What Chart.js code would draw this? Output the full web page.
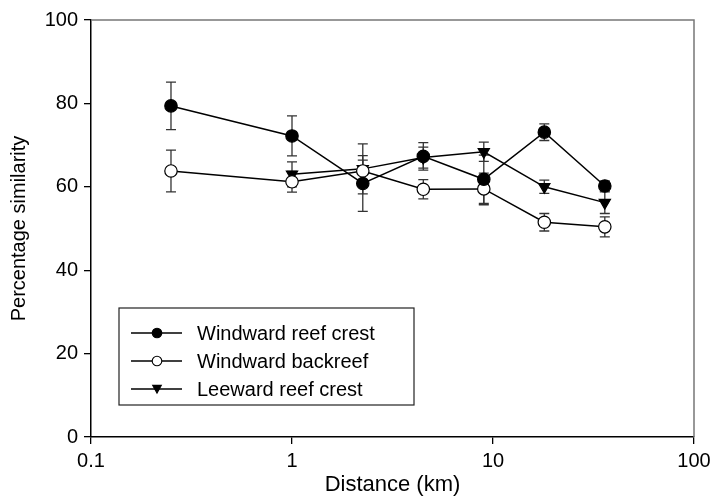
<!DOCTYPE html>
<html>
<head>
<meta charset="utf-8">
<script src="https://cdn.jsdelivr.net/npm/chart.js@4.4.1/dist/chart.umd.min.js"></script>
<style>
  html, body { margin: 0; padding: 0; background: #fff; }
  #wrap { width: 712px; height: 498px; }
</style>
</head>
<body>
<div id="wrap"><canvas id="chart" width="712" height="498"></canvas></div>
<script>
// distances (km) sampled, shared by all three series
const distances = [0.25, 1, 2.25, 4.5, 9, 18, 36];
const xTicks = [0.1, 1, 10, 100];
const yTicks = [0, 20, 40, 60, 80, 100];

const seriesNames = ["Windward reef crest", "Windward backreef", "Leeward reef crest"];

const crestMean = [79.4, 72.2, 60.8, 67.3, 61.8, 73.1, 60.2];
const crestErr  = [5.7, 4.8, 6.7, 3.3, 5.8, 2.0, 1.2];
const backMean  = [63.8, 61.2, 63.8, 59.4, 59.5, 51.5, 50.4];
const backErr   = [5.0, 2.5, 2.6, 2.3, 3.8, 2.1, 2.4];
const leeMean   = [null, 63.0, 64.3, 67.0, 68.4, 60.0, 56.2];
const leeErr    = [null, 3.0, 6.0, 2.5, 2.3, 1.6, 2.6];

const FONT = '"Liberation Sans", Arial, Helvetica, sans-serif';

function points(means, errs) {
  return distances
    .map((d, i) => ({ x: d, y: means[i], err: errs[i] }))
    .filter(p => p.y !== null);
}

// vertical error bars with caps, drawn under the markers
const errorBars = {
  id: "errorBars",
  beforeDatasetsDraw(chart) {
    const { ctx, scales: { x, y } } = chart;
    ctx.save();
    ctx.strokeStyle = "#333";
    ctx.lineWidth = 1.3;
    chart.data.datasets.forEach(ds => {
      ds.data.forEach(p => {
        const px = x.getPixelForValue(p.x);
        const top = y.getPixelForValue(p.y + p.err);
        const bot = y.getPixelForValue(p.y - p.err);
        ctx.beginPath();
        ctx.moveTo(px, top); ctx.lineTo(px, bot);
        ctx.moveTo(px - 5, top); ctx.lineTo(px + 5, top);
        ctx.moveTo(px - 5, bot); ctx.lineTo(px + 5, bot);
        ctx.stroke();
      });
    });
    ctx.restore();
  }
};

// grey top/right frame plus the boxed legend inside the plot
const frameAndLegend = {
  id: "frameAndLegend",
  afterDraw(chart) {
    const { ctx, chartArea: a } = chart;
    ctx.save();
    ctx.strokeStyle = "#777";
    ctx.lineWidth = 1.5;
    ctx.beginPath();
    ctx.moveTo(a.left, a.top); ctx.lineTo(a.right, a.top); ctx.lineTo(a.right, a.bottom);
    ctx.stroke();

    // legend box
    const bx = 119, by = 308, bw = 295, bh = 97;
    ctx.fillStyle = "#fff";
    ctx.fillRect(bx, by, bw, bh);
    ctx.strokeStyle = "#222";
    ctx.lineWidth = 1.2;
    ctx.strokeRect(bx, by, bw, bh);

    const rows = [333, 361, 389];
    chart.data.datasets.forEach((ds, i) => {
      const yy = rows[i];
      ctx.strokeStyle = "#000";
      ctx.lineWidth = 1.5;
      ctx.beginPath();
      ctx.moveTo(131, yy); ctx.lineTo(182, yy);
      ctx.stroke();
      const r = 4.8;
      ctx.fillStyle = ds.pointBackgroundColor;
      ctx.beginPath();
      if (ds.pointStyle === "triangle") {
        ctx.moveTo(157 - r * 0.9, yy - r * 0.75);
        ctx.lineTo(157 + r * 0.9, yy - r * 0.75);
        ctx.lineTo(157, yy + r * 0.85);
        ctx.closePath();
      } else {
        ctx.arc(157, yy, r, 0, Math.PI * 2);
      }
      ctx.fill();
      ctx.lineWidth = 1.1;
      ctx.stroke();

      ctx.fillStyle = "#000";
      ctx.font = "20px " + FONT;
      ctx.textBaseline = "middle";
      ctx.textAlign = "left";
      ctx.fillText(ds.label, 197, yy + 1);
    });
    ctx.restore();
  }
};

function lineSet(label, data, fill, style) {
  return {
    label: label,
    data: data,
    showLine: true,
    borderColor: "#000",
    borderWidth: 1.5,
    pointStyle: style,
    pointRotation: style === "triangle" ? 180 : 0,
    pointRadius: style === "triangle" ? 6.5 : 6.2,
    pointBorderWidth: 1.2,
    pointBorderColor: "#000",
    pointBackgroundColor: fill,
    backgroundColor: fill
  };
}

new Chart(document.getElementById("chart"), {
  type: "scatter",
  data: {
    datasets: [
      lineSet(seriesNames[0], points(crestMean, crestErr), "#000", "circle"),
      lineSet(seriesNames[1], points(backMean, backErr), "#fff", "circle"),
      lineSet(seriesNames[2], points(leeMean, leeErr), "#000", "triangle")
    ]
  },
  options: {
    responsive: false,
    animation: false,
    layout: { padding: { top: 20, right: 18, left: 0, bottom: 0 } },
    plugins: { legend: { display: false }, tooltip: { enabled: false } },
    scales: {
      x: {
        type: "logarithmic",
        min: 0.1,
        max: 100,
        afterBuildTicks: s => { s.ticks = xTicks.map(v => ({ value: v })); },
        afterFit: s => { s.height = 61; s.paddingLeft = 0; s.paddingRight = 0; },
        ticks: {
          color: "#000",
          padding: 5,
          font: { family: FONT, size: 20 },
          callback: v => String(v)
        },
        grid: { drawOnChartArea: false, drawTicks: true, tickLength: 7, color: "#000", lineWidth: 1.3 },
        border: { color: "#000", width: 1.5 },
        title: {
          display: true,
          text: "Distance (km)",
          color: "#000",
          font: { family: FONT, size: 22 },
          padding: { top: 0, bottom: 0 }
        }
      },
      y: {
        min: 0,
        max: 100,
        afterBuildTicks: s => { s.ticks = yTicks.map(v => ({ value: v })); },
        afterFit: s => { s.width = 91; s.paddingTop = 0; s.paddingBottom = 0; },
        ticks: {
          color: "#000",
          padding: 6,
          font: { family: FONT, size: 20 }
        },
        grid: { drawOnChartArea: false, drawTicks: true, tickLength: 7, color: "#000", lineWidth: 1.3 },
        border: { color: "#000", width: 1.5 },
        title: {
          display: true,
          text: "Percentage similarity",
          color: "#000",
          font: { family: FONT, size: 20 },
          padding: { top: 7, bottom: 0 }
        }
      }
    }
  },
  plugins: [errorBars, frameAndLegend]
});
</script>
</body>
</html>
